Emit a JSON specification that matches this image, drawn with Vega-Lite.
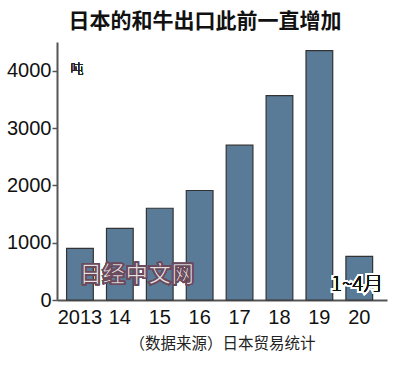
{
  "$schema": "https://vega.github.io/schema/vega-lite/v6.json",
  "width": 330,
  "height": 258,
  "autosize": {"type": "none"},
  "padding": {"left": 57, "top": 42, "right": 13, "bottom": 73},
  "background": "white",
  "config": {"view": {"stroke": null}},
  "title": {
    "text": "日本的和牛出口此前一直增加",
    "font": "Noto Sans CJK SC",
    "fontSize": 21,
    "fontWeight": "bold",
    "color": "#111",
    "anchor": "middle",
    "dx": -17,
    "offset": 10
  },
  "data": {
    "values": [
      {"year": "2013", "tons": 900},
      {"year": "14", "tons": 1250},
      {"year": "15", "tons": 1600},
      {"year": "16", "tons": 1910},
      {"year": "17", "tons": 2700},
      {"year": "18", "tons": 3565},
      {"year": "19", "tons": 4350},
      {"year": "20", "tons": 760}
    ]
  },
  "layer": [
    {
      "mark": {"type": "bar", "color": "#5a7b98", "stroke": "#333", "strokeWidth": 1.2},
      "encoding": {
        "x": {
          "field": "year", "type": "ordinal", "sort": null,
          "scale": {"paddingInner": 0.33, "paddingOuter": 0.3, "align": 0.4},
          "axis": {
            "title": "（数据来源）日本贸易统计",
            "titleFont": "Noto Sans CJK SC",
            "titleFontSize": 15.5,
            "titleFontWeight": "normal",
            "titleColor": "#222",
            "titlePadding": 9,
            "labelAngle": 0,
            "labelFont": "Liberation Sans",
            "labelFontSize": 20,
            "labelColor": "#111",
            "labelPadding": 7,
            "ticks": false,
            "domainColor": "#555",
            "domainWidth": 2
          }
        },
        "y": {
          "field": "tons", "type": "quantitative",
          "scale": {"domain": [0, 4500], "nice": false},
          "axis": {
            "title": null,
            "values": [0, 1000, 2000, 3000, 4000],
            "format": "d",
            "grid": false,
            "labelFont": "Liberation Sans",
            "labelFontSize": 20,
            "labelColor": "#111",
            "labelPadding": 1,
            "tickSize": 5,
            "tickColor": "#555",
            "tickWidth": 1.5,
            "domainColor": "#555",
            "domainWidth": 2
          }
        }
      }
    },
    {
      "mark": {"type": "text", "text": "吨", "font": "Noto Sans CJK SC", "fontSize": 13, "fontWeight": 300, "color": "#222", "dx": -3},
      "encoding": {"x": {"datum": "2013"}, "y": {"datum": 4030}}
    },
    {
      "mark": {"type": "text", "text": "日经中文网", "font": "Noto Sans CJK SC", "fontSize": 23, "fontWeight": "bold", "fill": "#e4e0e2", "stroke": "#6b4a5c", "strokeWidth": 1.5, "dx": 17},
      "encoding": {"x": {"datum": "14"}, "y": {"datum": 440}}
    },
    {
      "mark": {"type": "text", "text": "1~4月", "font": "Noto Sans CJK SC", "fontSize": 20, "fontWeight": 300, "fill": "white", "stroke": "white", "strokeWidth": 4, "dx": -2},
      "encoding": {"x": {"datum": "20"}, "y": {"datum": 253}}
    },
    {
      "mark": {"type": "text", "text": "1~4月", "font": "Noto Sans CJK SC", "fontSize": 20, "fontWeight": 300, "fill": "#111", "dx": -2},
      "encoding": {"x": {"datum": "20"}, "y": {"datum": 253}}
    }
  ]
}
